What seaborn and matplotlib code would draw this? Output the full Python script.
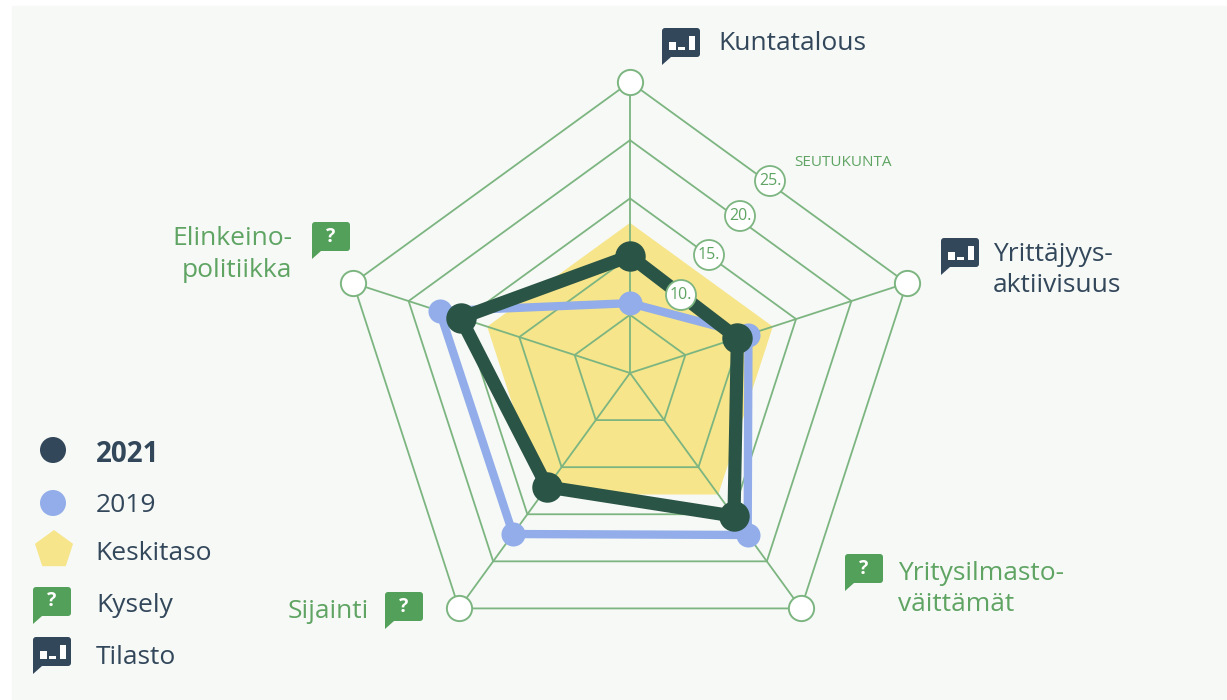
import numpy as np
import pandas as pd
import matplotlib.pyplot as plt
from matplotlib.patches import FancyBboxPatch, Polygon, Rectangle, Circle
import seaborn as sns

# Values (seutukunta rank, 0 = centre)
categories = ["Kuntatalous", "Yrittäjyys-\naktiivisuus", "Yritysilmasto-\nväittämät", "Sijainti", "Elinkeino-\npolitiikka"]
values_2021 = [10.05, 9.7, 15.2, 12.1, 15.3]
values_2019 = [6.0, 10.7, 17.2, 17.1, 17.2]
values_avg = [12.9, 12.9, 12.9, 12.9, 12.9]
rings = [5, 10, 15, 20, 25]
ring_labels = ["10.", "15.", "20.", "25."]

W, H = 1227, 700
CX, CY, R = 630, 373, 291
GREEN = "#7db581"
TXT_GREEN = "#5fa463"
NAVY = "#33475b"
DARK = "#2a5445"
BLUE = "#92ade9"
YELLOW = "#f6e58b"
BG = "#f6f9f6"
ICON_GREEN = "#53a05a"

sns.set_theme(style="white")
plt.rcParams["font.family"] = ["Open Sans", "DejaVu Sans"]

theta = np.deg2rad(np.arange(5) * 72.0)
theta_closed = np.append(theta, theta[0])


def closed(vals):
    return pd.DataFrame({"theta": theta_closed, "r": list(vals) + [vals[0]]})


fig = plt.figure(figsize=(W / 100, H / 100), dpi=100, facecolor="white")
fig.patches.append(Rectangle((12 / W, 0), 1 - 12 / W, 1 - 6 / H, transform=fig.transFigure, color=BG, zorder=-5))

ax = fig.add_axes([(CX - R) / W, (H - CY - R) / H, 2 * R / W, 2 * R / H], projection="polar")
ax.set_theta_zero_location("N")
ax.set_theta_direction(-1)
ax.set_facecolor("none")
ax.grid(False)
ax.spines["polar"].set_visible(False)
ax.set_xticks([])
ax.set_yticks([])

# average area
avg = closed(values_avg)
ax.fill(avg["theta"], avg["r"], color=YELLOW, lw=0, zorder=1)

# web
for t in theta:
    ax.plot([t, t], [0, rings[-1]], color=GREEN, lw=1.3, zorder=2)
for ring in rings:
    ax.plot(theta_closed, [ring] * 6, color=GREEN, lw=1.3, zorder=2)

sns.scatterplot(x=theta, y=[rings[-1]] * 5, s=330, color="white", edgecolor=GREEN, linewidth=1.4,
                ax=ax, clip_on=False, zorder=3, legend=False)

sns.lineplot(data=closed(values_2019), x="theta", y="r", sort=False, estimator=None, color=BLUE, lw=6, ax=ax, zorder=4)
sns.scatterplot(x=theta, y=values_2019, s=300, color=BLUE, linewidth=0, ax=ax, zorder=5, legend=False)
sns.lineplot(data=closed(values_2021), x="theta", y="r", sort=False, estimator=None, color=DARK, lw=9.5, ax=ax, zorder=6)
sns.scatterplot(x=theta, y=values_2021, s=480, color=DARK, linewidth=0, ax=ax, zorder=7, legend=False)
# polar axes bend straight segments otherwise
for line in ax.lines:
    line.get_path()._interpolation_steps = 1
ax.set_xlabel("")
ax.set_ylabel("")
ax.set_rlim(0, rings[-1])

# overlay in pixel coordinates for labels, icons and legend
ov = fig.add_axes([0, 0, 1, 1])
ov.set_xlim(0, W)
ov.set_ylim(H, 0)
ov.axis("off")
ov.patch.set_alpha(0)


def icon(x, y, color, kind):
    w, h = 38, 29
    ov.add_patch(FancyBboxPatch((x + 2, y + 2), w - 4, h - 4, boxstyle="round,pad=2,rounding_size=3",
                                fc=color, ec="none", zorder=10))
    ov.add_patch(Polygon([(x, y + h - 4), (x, y + h + 8), (x + 9, y + h), (x + 9, y + h - 4)],
                         fc=color, ec="none", zorder=10))
    if kind == "bar":
        for bx, bw, bh in [(7, 7, 8), (16, 7, 3), (27, 6, 14)]:
            ov.add_patch(Rectangle((x + bx, y + 22 - bh), bw, bh, fc="white", ec="none", zorder=11))
    else:
        ov.text(x + w / 2, y + h / 2, "?", color="white", fontsize=14, fontweight="bold",
                ha="center", va="center", zorder=11)


# axis labels
FS = 19
ov.text(718, 43, categories[0], color=NAVY, fontsize=FS, va="center", ha="left")
ov.text(993, 270, categories[1], color=NAVY, fontsize=FS, va="center", ha="left", linespacing=1.33)
ov.text(898, 589, categories[2], color=TXT_GREEN, fontsize=FS, va="center", ha="left", linespacing=1.33)
ov.text(288, 611, categories[3], color=TXT_GREEN, fontsize=FS, va="center", ha="left")
ov.text(292, 254.5, categories[4], color=TXT_GREEN, fontsize=FS, va="center", ha="right", linespacing=1.33)
icon(662, 28, NAVY, "bar")
icon(941, 238, NAVY, "bar")
icon(845, 554, ICON_GREEN, "q")
icon(385, 592, ICON_GREEN, "q")
icon(312, 222, ICON_GREEN, "q")

# ring rank badges
for lab, (bx, by) in zip(ring_labels, [(681, 295), (709, 255), (740, 216), (770, 181)]):
    ov.add_patch(Circle((bx, by), 15, fc="white", ec=GREEN, lw=1.3, zorder=12))
    ov.text(bx, by, lab, color=TXT_GREEN, fontsize=11.5, ha="center", va="center", zorder=13)
ov.text(794, 162, "SEUTUKUNTA", color=TXT_GREEN, fontsize=11, ha="left", va="center")

# legend
ov.add_patch(Circle((53, 450), 13, fc=NAVY, ec="none"))
ov.add_patch(Circle((53, 503), 13, fc=BLUE, ec="none"))
ang = np.deg2rad(np.arange(5) * 72.0)
ov.add_patch(Polygon(np.c_[54 + 20 * np.sin(ang), 550 - 20 * np.cos(ang)], fc=YELLOW, ec="none"))
icon(33, 587, ICON_GREEN, "q")
icon(33, 637, NAVY, "bar")
ov.text(96, 455, "2021", color=NAVY, fontsize=20, fontweight="bold", va="center")
ov.text(96, 506, "2019", color=NAVY, fontsize=FS, va="center")
ov.text(95, 554, "Keskitaso", color=NAVY, fontsize=FS, va="center")
ov.text(96, 605, "Kysely", color=NAVY, fontsize=FS, va="center")
ov.text(96, 658, "Tilasto", color=NAVY, fontsize=FS, va="center")

fig.savefig("out.png", dpi=100)
